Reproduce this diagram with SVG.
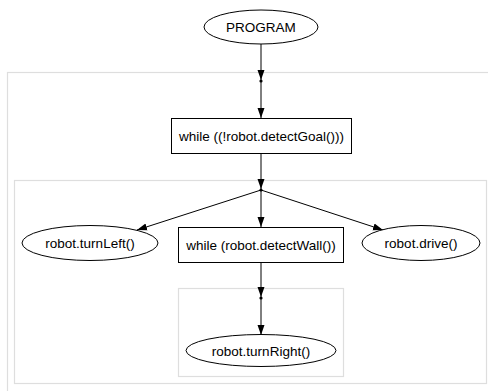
<svg xmlns="http://www.w3.org/2000/svg" width="488" height="391" viewBox="0 0 488 391">
<style>
.cl{fill:none;stroke:#dedede;stroke-width:1.2}
.nd{fill:#fff;stroke:#000;stroke-width:1}
.tx{font-family:"Liberation Sans",Arial,sans-serif;font-size:13.5px;fill:#000;text-anchor:middle}
.ed{fill:none;stroke:#000;stroke-width:1;marker-end:url(#ah)}
.dot{fill:#000}
</style>
<defs>
<marker id="ah" markerWidth="10" markerHeight="8" refX="10" refY="4" orient="auto" markerUnits="userSpaceOnUse">
<path d="M0,0.5 L10,4 L0,7.5 Z" fill="#000"/>
</marker>
</defs>
<rect width="488" height="391" fill="#fff"/>
<g id="clusters">
<rect class="cl" x="7.5" y="72.5" width="500" height="400"/>
<rect class="cl" x="14.5" y="180.5" width="472" height="203"/>
<rect class="cl" x="178.5" y="288.5" width="165" height="88"/>
</g>
<g id="connectors">
<line class="ed" x1="261" y1="44" x2="261" y2="80"/>
<line class="ed" x1="261" y1="81" x2="261" y2="118"/>
<line class="ed" x1="261" y1="153" x2="261" y2="189"/>
<line class="ed" x1="261" y1="190" x2="137" y2="230"/>
<line class="ed" x1="261" y1="190" x2="261" y2="227"/>
<line class="ed" x1="261" y1="190" x2="383" y2="230"/>
<line class="ed" x1="261" y1="262" x2="261" y2="297"/>
<line class="ed" x1="261" y1="298" x2="261" y2="335"/>
<circle class="dot" cx="261" cy="81" r="1.6"/>
<circle class="dot" cx="261" cy="190" r="1.6"/>
<circle class="dot" cx="261" cy="298" r="1.6"/>
</g>
<g id="program">
<ellipse class="nd" cx="261" cy="27" rx="57" ry="17"/>
<text class="tx" x="261" y="32">PROGRAM</text>
</g>
<g id="while_goal">
<rect class="nd" x="171.5" y="118.5" width="180" height="35"/>
<text class="tx" x="261.5" y="141">while ((!robot.detectGoal()))</text>
</g>
<g id="turnLeft">
<ellipse class="nd" cx="90" cy="243" rx="68" ry="17.5"/>
<text class="tx" x="90" y="248">robot.turnLeft()</text>
</g>
<g id="while_wall">
<rect class="nd" x="178.5" y="227.5" width="165" height="35"/>
<text class="tx" x="261" y="250">while (robot.detectWall())</text>
</g>
<g id="drive">
<ellipse class="nd" cx="421" cy="243" rx="59" ry="17.5"/>
<text class="tx" x="421" y="248">robot.drive()</text>
</g>
<g id="turnRight">
<ellipse class="nd" cx="261" cy="350.5" rx="75" ry="16"/>
<text class="tx" x="261" y="355.5">robot.turnRight()</text>
</g>
</svg>
